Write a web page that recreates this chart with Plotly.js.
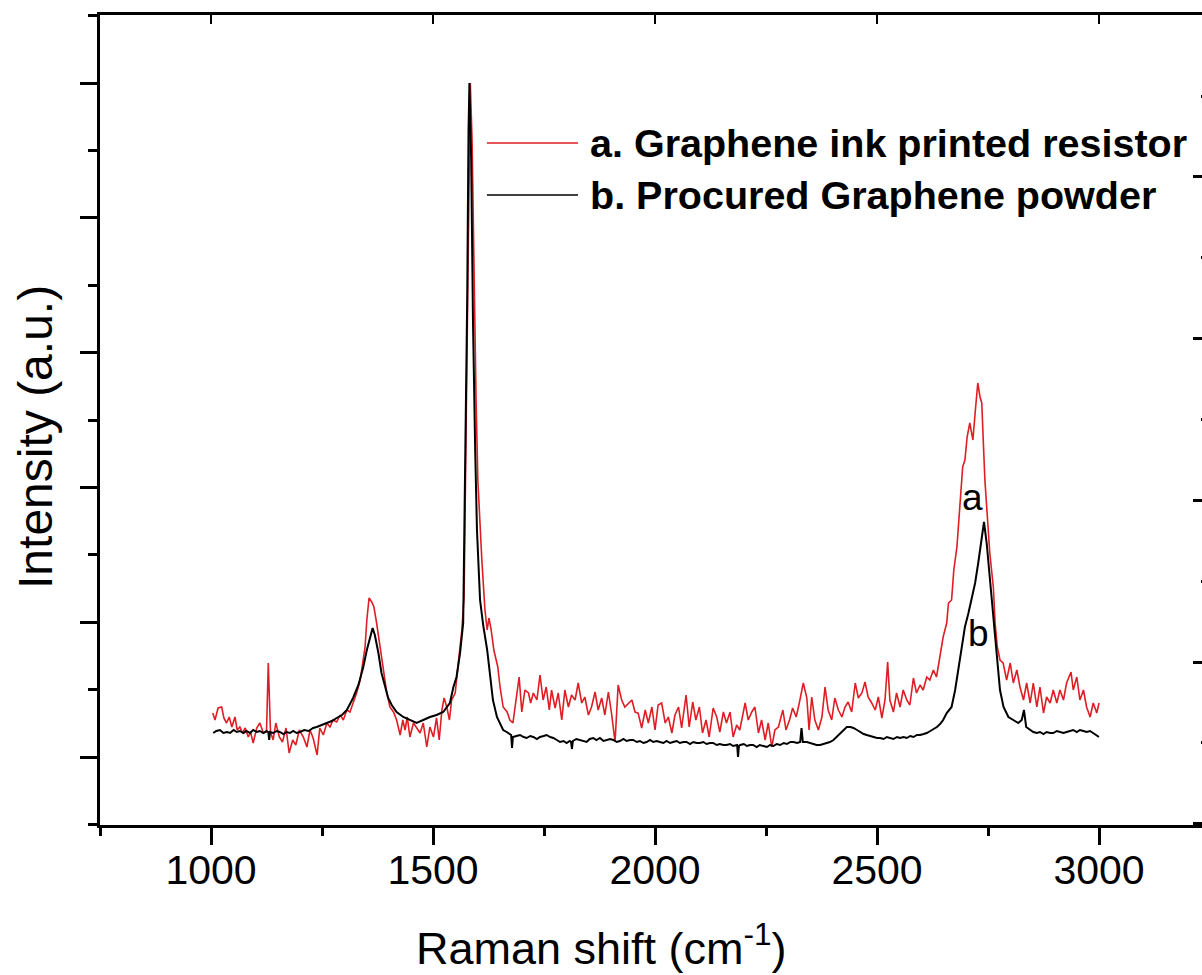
<!DOCTYPE html>
<html>
<head>
<meta charset="utf-8">
<script src="https://cdn.plot.ly/plotly-3.0.1.min.js"></script>
<style>
html,body{margin:0;padding:0;background:#fff;overflow:hidden;width:1202px;height:975px;}
#chart{width:1230px;height:975px;}
</style>
</head>
<body>
<div id="chart"></div>
<script>
// Raman shift (cm^-1) and intensity (a.u.)
const redShift = [1004,1009,1016,1024,1029,1035,1041,1047,1054,1059,1065,1071,1077,1084,1089,1095,1103,1110,1118,1125,1129,1134,1140,1146,1154,1161,1169,1176,1184,1191,1199,1208,1216,1223,1230,1239,1245,1253,1261,1268,1275,1283,1291,1298,1306,1313,1320,1328,1336,1342,1347,1351,1356,1362,1367,1373,1381,1388,1396,1403,1411,1418,1426,1432,1437,1442,1448,1456,1463,1471,1478,1486,1493,1501,1508,1514,1520,1525,1531,1537,1542,1550,1557,1565,1570,1574,1579,1582,1584,1588,1592,1597,1601,1606,1610,1617,1622,1626,1631,1637,1646,1651,1658,1667,1673,1680,1687,1694,1700,1707,1715,1720,1726,1734,1741,1748,1755,1762,1767,1775,1782,1790,1797,1805,1812,1820,1827,1835,1842,1850,1857,1865,1872,1880,1887,1895,1902,1910,1917,1925,1932,1940,1948,1955,1962,1970,1978,1985,1993,2000,2007,2015,2023,2030,2038,2045,2053,2060,2070,2077,2085,2092,2100,2107,2115,2122,2131,2139,2146,2154,2161,2169,2176,2184,2191,2203,2210,2218,2225,2233,2240,2248,2255,2263,2270,2278,2288,2295,2303,2310,2318,2325,2334,2342,2347,2353,2360,2368,2376,2383,2390,2398,2405,2413,2421,2428,2435,2443,2451,2458,2466,2473,2480,2488,2496,2503,2511,2518,2524,2529,2537,2544,2552,2559,2567,2574,2582,2589,2597,2604,2612,2619,2627,2634,2642,2649,2657,2661,2668,2673,2680,2687,2693,2698,2703,2709,2716,2721,2727,2732,2736,2739,2743,2748,2754,2762,2766,2771,2777,2784,2792,2800,2807,2815,2822,2830,2837,2845,2852,2860,2867,2875,2882,2890,2897,2905,2912,2920,2927,2937,2942,2950,2957,2965,2972,2980,2987,2995,3000];
const redIntensity = [112,105,117,118,107,102,108,98,108,95,98,92,97,88,93,82,97,102,92,93,162,93,85,102,88,83,97,72,85,80,95,88,78,95,87,70,97,90,102,98,105,103,110,105,115,113,122,132,145,163,178,205,227,223,218,202,178,155,132,118,113,105,90,105,95,108,88,102,97,92,102,78,98,88,107,85,115,127,118,105,125,132,162,195,228,375,575,705,742,685,545,425,345,295,265,215,195,207,195,175,158,138,118,113,105,102,125,148,113,135,132,122,132,125,150,125,138,115,135,117,132,105,135,118,130,125,142,122,128,110,118,133,115,127,110,133,112,83,140,125,118,122,125,113,112,97,115,102,118,95,120,122,102,108,92,110,118,97,130,98,123,105,118,92,105,88,117,108,93,113,102,113,88,100,95,122,105,113,118,92,105,85,102,78,95,98,115,95,105,117,108,122,142,127,95,128,105,95,108,138,115,105,127,115,108,118,123,113,142,127,132,143,128,122,115,128,107,125,163,125,113,132,118,135,125,120,147,132,140,135,148,145,155,148,168,188,202,222,225,255,278,322,358,365,388,402,385,412,442,428,422,388,345,312,272,238,202,178,165,162,145,162,142,155,138,125,142,122,142,118,138,112,128,122,135,122,135,125,142,153,135,148,125,135,118,108,122,112,122];

const blackShift = [1005,1012,1020,1028,1036,1043,1051,1058,1065,1073,1080,1088,1095,1103,1110,1118,1125,1129,1131,1133,1140,1148,1155,1163,1170,1178,1185,1193,1200,1210,1220,1230,1238,1250,1261,1272,1283,1295,1306,1320,1332,1343,1351,1358,1364,1369,1377,1384,1392,1399,1407,1418,1433,1448,1463,1478,1493,1508,1523,1538,1546,1553,1561,1568,1572,1577,1580,1582,1586,1590,1595,1599,1606,1613,1622,1628,1635,1644,1658,1666,1672,1676,1678,1680,1688,1696,1704,1711,1719,1726,1734,1741,1749,1756,1764,1771,1779,1786,1794,1801,1808,1811,1813,1815,1823,1831,1838,1846,1853,1861,1868,1876,1884,1891,1899,1906,1914,1921,1929,1936,1944,1951,1959,1966,1974,1981,1989,1996,2004,2011,2019,2026,2034,2041,2049,2056,2064,2071,2079,2086,2094,2101,2109,2116,2124,2131,2139,2146,2154,2161,2169,2176,2183,2185,2187,2189,2192,2200,2207,2214,2221,2229,2236,2244,2252,2259,2267,2274,2282,2290,2297,2305,2312,2320,2327,2330,2333,2342,2350,2357,2364,2372,2379,2387,2394,2402,2409,2415,2421,2427,2432,2440,2447,2455,2462,2470,2477,2485,2492,2500,2507,2515,2522,2530,2537,2545,2552,2560,2567,2575,2582,2590,2597,2605,2612,2620,2627,2635,2642,2649,2657,2664,2668,2676,2683,2691,2698,2706,2713,2721,2728,2736,2741,2747,2755,2762,2770,2777,2785,2796,2807,2818,2826,2831,2836,2845,2852,2860,2867,2875,2882,2890,2897,2905,2912,2920,2927,2935,2942,2950,2957,2965,2972,2980,2987,2995,3000];
const blackIntensity = [92,94,95,92,93,92,95,93,94,92,94,92,95,93,94,92,94,93,85,93,92,94,93,91,93,92,94,92,93,95,94,97,98,100,102,104,107,110,115,127,140,158,175,187,197,190,172,152,138,127,120,113,108,105,102,105,108,110,113,122,138,148,172,202,325,525,695,742,665,505,375,295,225,200,175,150,125,108,95,93,91,90,77,88,89,90,88,87,89,88,86,88,89,90,88,87,85,83,84,82,84,83,76,84,86,85,84,83,86,87,85,87,84,85,86,85,83,84,86,84,85,85,83,84,82,83,85,83,84,83,82,84,82,83,84,82,83,83,81,83,82,82,83,81,82,82,80,81,80,80,81,79,80,80,68,79,80,81,79,80,80,78,80,79,78,80,79,81,80,82,81,83,83,82,83,97,83,83,82,81,80,80,81,82,83,85,88,91,93,96,98,98,97,95,93,91,90,89,88,87,87,86,88,87,86,88,87,88,87,89,88,90,90,91,92,94,96,98,101,105,112,116,118,135,155,178,198,212,225,242,262,285,303,282,242,202,165,135,118,108,105,102,105,115,98,95,93,92,93,91,93,92,92,94,93,92,93,94,95,93,95,94,93,94,92,90,88];

const seriesNames = ['a. Graphene ink printed resistor', 'b. Procured Graphene powder'];
const peakLabels = ['a', 'b'];
const xTickValues = [1000, 1500, 2000, 2500, 3000];

const FONT = 'Liberation Sans, Arial, sans-serif';
const RED = 'rgb(222,30,36)';

const traces = [
  {x: redShift, y: redIntensity, type: 'scatter', mode: 'lines', name: seriesNames[0],
   line: {color: RED, width: 1.6}, xaxis: 'x', yaxis: 'y', showlegend: false},
  {x: blackShift, y: blackIntensity, type: 'scatter', mode: 'lines', name: seriesNames[1],
   line: {color: '#000', width: 2}, xaxis: 'x2', yaxis: 'y2', showlegend: false}
];

const axisCommon = {showgrid: false, zeroline: false, showline: true, linecolor: '#000', linewidth: 3};

const layout = {
  width: 1230, height: 975,
  margin: {l: 100, r: 20, t: 15, b: 150},
  paper_bgcolor: '#fff', plot_bgcolor: '#fff',
  font: {family: FONT, color: '#000'},
  showlegend: false,
  xaxis: Object.assign({}, axisCommon, {
    range: [750, 3250], tickmode: 'array', tickvals: xTickValues, ticktext: xTickValues.map(String),
    ticks: 'outside', ticklen: 17, tickwidth: 3, tickcolor: '#000', ticklabelstandoff: -10,
    tickfont: {size: 41, family: FONT, color: '#000'},
    minor: {ticks: 'outside', ticklen: 8, tickwidth: 3, tickcolor: '#000', tick0: 750, dtick: 250},
    side: 'bottom'
  }),
  xaxis2: Object.assign({}, axisCommon, {
    range: [750, 3250], overlaying: 'x', side: 'top', anchor: 'y2',
    tickmode: 'array', tickvals: xTickValues, showticklabels: false,
    ticks: 'inside', ticklen: 9, tickwidth: 2, tickcolor: '#000'
  }),
  yaxis: Object.assign({}, axisCommon, {
    range: [0, 810], tick0: 68, dtick: 134.8, showticklabels: false,
    ticks: 'outside', ticklen: 17, tickwidth: 3, tickcolor: '#000',
    minor: {ticks: 'outside', ticklen: 9, tickwidth: 3, tickcolor: '#000', tick0: 68, dtick: 67.4}
  }),
  yaxis2: Object.assign({}, axisCommon, {
    range: [0, 810], overlaying: 'y', side: 'right', anchor: 'x',
    tick0: 163, dtick: 161.7, showticklabels: false,
    ticks: 'inside', ticklen: 17, tickwidth: 3, tickcolor: '#000',
    minor: {ticks: 'inside', ticklen: 9, tickwidth: 3, tickcolor: '#000', tick0: 163, dtick: 80.85}
  }),
  shapes: [
    {type: 'line', xref: 'paper', yref: 'paper', x0: 0.3486, x1: 0.4306, y0: 0.842, y1: 0.842, line: {color: RED, width: 1.6}},
    {type: 'line', xref: 'paper', yref: 'paper', x0: 0.3486, x1: 0.4306, y0: 0.7778, y1: 0.7778, line: {color: '#000', width: 1.6}}
  ],
  annotations: [
    {xref: 'paper', yref: 'paper', x: 0.4396, y: 0.842, xanchor: 'left', yanchor: 'middle', showarrow: false,
     text: '<b>' + seriesNames[0] + '</b>', font: {size: 39.5, family: FONT, color: '#000'}},
    {xref: 'paper', yref: 'paper', x: 0.4396, y: 0.7778, xanchor: 'left', yanchor: 'middle', showarrow: false,
     text: '<b>' + seriesNames[1] + '</b>', font: {size: 39.5, family: FONT, color: '#000'}},
    {xref: 'x', yref: 'y', x: 2716, y: 328, showarrow: false, text: peakLabels[0],
     font: {size: 37, family: FONT, color: '#000'}},
    {xref: 'x', yref: 'y', x: 2728, y: 192, showarrow: false, text: peakLabels[1],
     font: {size: 37, family: FONT, color: '#000'}},
    {xref: 'paper', yref: 'paper', x: 0.452, y: -0.148, xanchor: 'center', yanchor: 'middle', showarrow: false,
     text: 'Raman shift (cm<sup>-1</sup>)', font: {size: 45, family: FONT, color: '#000'}},
    {xref: 'paper', yref: 'paper', x: -0.0586, y: 0.479, xanchor: 'center', yanchor: 'middle', showarrow: false,
     textangle: -90, text: 'Intensity (a.u.)', font: {size: 48, family: FONT, color: '#000'}}
  ]
};

Plotly.newPlot('chart', traces, layout, {displayModeBar: false, staticPlot: true});
</script>
</body>
</html>
